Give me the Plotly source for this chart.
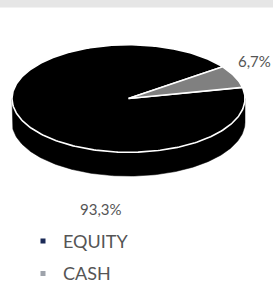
import numpy as np
import plotly.graph_objects as go

# ---- data ----
labels = ["EQUITY", "CASH"]
values = [93.3, 6.7]

# ---- style ----
slice_colors = ["#000000", "#808080"]
legend_colors = ["#1b2a57", "#9ea3ab"]
text_color = "#555555"
FONT = "Lato"

W, H = 273, 292
CX, CY, RX, RY, DEPTH = 128.5, 103.5, 116.5, 56.5, 25
START = -12.0  # screen degrees, clockwise from east
label_pos = [(101, 219), (254, 64)]

fig = go.Figure()

total = float(sum(values))
bounds = START + np.concatenate([[0.0], np.cumsum(values)]) / total * 360.0


def arc(a0, a1, dy=0.0):
    n = max(int(abs(a1 - a0)), 2) + 1
    t = np.radians(np.linspace(a0, a1, n))
    return CX + RX * np.cos(t), CY + dy + RY * np.sin(t)


# side faces (front half only: screen angles 0..180)
for i in range(len(values)):
    a0, a1 = bounds[i], bounds[i + 1]
    for k in (-1, 0, 1):
        lo, hi = max(a0, 360 * k), min(a1, 180 + 360 * k)
        if hi > lo:
            xt, yt = arc(lo, hi)
            xb, yb = arc(hi, lo, DEPTH)
            fig.add_trace(go.Scatter(
                x=np.concatenate([xt, xb, xt[:1]]),
                y=np.concatenate([yt, yb, yt[:1]]),
                mode="lines", fill="toself", fillcolor=slice_colors[i],
                line=dict(color=slice_colors[i], width=0.5),
                hoverinfo="skip", showlegend=False))

# top faces
for i in range(len(values)):
    a0, a1 = bounds[i], bounds[i + 1]
    xa, ya = arc(a0, a1)
    fig.add_trace(go.Scatter(
        x=np.concatenate([[CX], xa, [CX]]),
        y=np.concatenate([[CY], ya, [CY]]),
        mode="lines", fill="toself", fillcolor=slice_colors[i],
        line=dict(color="#ffffff", width=1.6),
        hoverinfo="skip", showlegend=False))

# legend entries
for i, lab in enumerate(labels):
    fig.add_trace(go.Scatter(
        x=[None], y=[None], mode="markers", name=lab, legendgroup=lab,
        marker=dict(symbol="square", size=5, color=legend_colors[i]),
        showlegend=True))

# data labels
for i, v in enumerate(values):
    txt = f"{v:.1f}".replace(".", ",") + "%"
    fig.add_annotation(x=label_pos[i][0], y=label_pos[i][1], text=txt,
                       showarrow=False, xref="x", yref="y",
                       font=dict(family=FONT, size=15, color=text_color))

fig.add_shape(type="rect", xref="paper", yref="y", x0=0, x1=1, y0=0, y1=8,
              fillcolor="#e6e6e6", line=dict(width=0), layer="below")

fig.update_layout(
    width=W, height=H, autosize=False,
    margin=dict(l=0, r=0, t=0, b=0),
    paper_bgcolor="#ffffff", plot_bgcolor="#ffffff",
    xaxis=dict(range=[0, W], visible=False, fixedrange=True),
    yaxis=dict(range=[H, 0], visible=False, fixedrange=True),
    showlegend=True,
    legend=dict(x=23 / W, y=1 - 234 / H, xanchor="left", yanchor="top",
                font=dict(family=FONT, size=18, color=text_color),
                tracegroupgap=6, traceorder="grouped",
                itemsizing="trace", bgcolor="rgba(0,0,0,0)"),
)

fig.write_html(
    "out.html",
    config={"displayModeBar": False},
    post_script="document.body.style.margin='0';document.body.style.overflow='hidden';",
)
